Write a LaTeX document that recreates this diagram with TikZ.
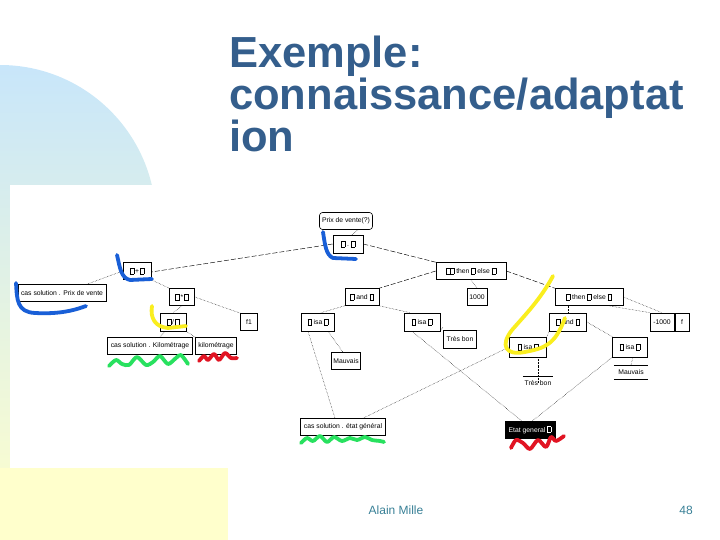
\documentclass[tikz,border=0pt]{standalone}
\usepackage{fontspec}
\setmainfont{Liberation Sans}
\usetikzlibrary{calc}
\definecolor{bgblue}{RGB}{200,230,250}
\definecolor{bgyellow}{RGB}{255,255,204}
\definecolor{titleblue}{RGB}{52,94,140}
\definecolor{foot}{RGB}{56,128,150}
\definecolor{hlblue}{RGB}{25,95,215}
\definecolor{hlyellow}{RGB}{250,238,30}
\definecolor{hlgreen}{RGB}{40,225,95}
\definecolor{hlred}{RGB}{225,20,35}
\newcommand\slt{\setlength\fboxsep{0pt}\setlength\fboxrule{0.3pt}\fbox{\rule{0pt}{5.5pt}\hspace{3.5pt}}}
\tikzset{
  tbox/.style={draw, line width=0.6pt, inner sep=1pt, font=\fontsize{6.8}{8}\selectfont, minimum height=17pt},
  conn/.style={line width=0.45pt, dash pattern=on 5pt off 2pt},
  dconn/.style={line width=0.45pt, densely dotted},
  hl/.style={line width=3.8pt, line cap=round, line join=round},
}
\begin{document}
\begin{tikzpicture}[x=1pt,y=-1pt]
\useasboundingbox (0,0) rectangle (720,540);
% background
\shade[top color=bgblue, bottom color=bgyellow]
  (0,65) arc[start angle=-90, end angle=0, radius=156] -- (156,221) -- (10,221) -- (10,468) -- (228,468) -- (228,540) -- (0,540) -- cycle;
\fill[white] (10,185) rectangle (720,468);
\fill[bgyellow] (0,468) rectangle (228,540);
% title
\node[anchor=base west, text=titleblue, font=\fontsize{43.5}{36}\selectfont\bfseries, inner sep=0pt, align=left, text width=480pt] (title) at (229,68)
  {Exemple:\\connaissance/adaptat\\ion};
% footer
\node[text=foot, font=\fontsize{12}{14}\selectfont] (auth) at (396,510) {Alain Mille};
\node[text=foot, font=\fontsize{12}{14}\selectfont] (pg) at (686,510) {48};

% nodes
\node[tbox, rounded corners=3pt, minimum width=53pt] (P) at (346,221) {Prix de vente(?)};
\node[tbox, minimum width=30pt, minimum height=18pt] (R) at (348,244) {\slt\ .\ \slt};
\node[tbox, minimum width=28pt] (A) at (137,271) {\slt\,+\,\slt};
\node[tbox, minimum width=88pt] (cs1) at (62,293) {cas solution . Prix de vente};
\node[tbox, minimum width=25pt] (B) at (182,297) {\slt\,*\,\slt};
\node[tbox, minimum width=26pt, minimum height=18pt] (C) at (173,322) {\slt\,/\,\slt};
\node[tbox, minimum width=17pt] (D) at (249,322) {f1};
\node[tbox, minimum width=85pt] (cs2) at (150,346) {cas solution . Kilométrage};
\node[tbox, minimum width=41pt] (km) at (216,346) {kilométrage};
\node[tbox, minimum width=70pt] (ite) at (471,271) {\slt\slt\ then \slt\ else \slt};
\node[tbox, minimum width=34pt] (and1) at (362,297) {\slt\ and \slt};
\node[tbox, minimum width=20pt] (k1000) at (477,297) {1000};
\node[tbox, minimum width=68pt] (ite2) at (589,297) {\slt\ then \slt\ else \slt};
\node[tbox, minimum width=33pt, minimum height=18pt] (isa1) at (318,322) {\slt\ isa \slt};
\node[tbox, minimum width=36pt, minimum height=18pt] (isa2) at (422,322) {\slt\ isa \slt};
\node[tbox, minimum width=33pt, minimum height=18pt] (tb1) at (460,339) {Très bon};
\node[tbox, minimum width=29pt] (mv1) at (346,361) {Mauvais};
\node[tbox, minimum width=37pt, minimum height=18pt] (and2) at (568,322) {\slt\ and \slt};
\node[tbox, minimum width=24pt, minimum height=18pt] (m1000) at (662,322) {-1000};
\node[tbox, minimum width=14pt, minimum height=18pt] (fb) at (682,322) {f};
\node[tbox, minimum width=37pt, minimum height=20pt] (isa3) at (528,347) {\slt\ isa \slt};
\node[tbox, minimum width=35pt, minimum height=20pt] (isa4) at (630,347) {\slt\ isa \slt};
\node[font=\fontsize{6.8}{8}\selectfont, inner sep=1pt, minimum width=30pt] (tb2) at (538,383) {Très bon};
\draw[line width=0.6pt] ($(tb2.north west)+(0,-3)$) -- ($(tb2.north east)+(0,-3)$);
\node[font=\fontsize{6.8}{8}\selectfont, inner sep=1pt, minimum width=34pt, minimum height=14pt] (mv2) at (631,372) {Mauvais};
\draw[line width=0.6pt] (mv2.north west) -- (mv2.north east);
\draw[line width=0.6pt] (mv2.south west) -- (mv2.south east);
\node[tbox, minimum width=85pt] (cs3) at (343,427) {cas solution . état général};
\node[tbox, fill=black, text=white, minimum width=50pt] (eg) at (530,430) {Etat general \slt};

% connectors
\draw[dconn] ([xshift=12pt]P.south) -- ([xshift=4pt]R.north);
\draw[conn] (R.west) -- ([yshift=-1pt]A.east);
\draw[conn] (R.east) -- (ite.north west);
\draw[dconn] (A.west) -- ([xshift=25pt]cs1.north);
\draw[dconn] (A.south east) -- (B.north west);
\draw[dconn] (B.south) -- (C.north);
\draw[dconn] (B.east) -- (D.north west);
\draw[dconn] ([xshift=-8pt]C.south) -- ([xshift=10pt]cs2.north);
\draw[dconn] (C.south east) -- (km.north west);
\draw[conn] (ite.west) -- (and1.north east);
\draw[dconn] (ite.south) -- (k1000.north);
\draw[conn] (ite.east) -- (ite2.north west);
\draw[dconn] (and1.south west) -- ([xshift=3pt]isa1.north);
\draw[dconn] (and1.south east) -- ([xshift=-12pt]isa2.north);
\draw[dconn] ([xshift=10pt]isa1.south) -- ([xshift=-3pt]mv1.north);
\draw[dconn] ([xshift=-10pt]isa1.south) -- ([xshift=-8pt]cs3.north);
\draw[dconn] (isa2.south east) -- ([yshift=3pt]tb1.north west);
\draw[dconn] ([xshift=-10pt]isa2.south) -- ([xshift=-8pt]eg.north);
\draw[dconn] ([xshift=-21pt]ite2.south) -- (and2.north);
\draw[dconn] (ite2.east) -- (m1000.north);
\draw[dconn] ([xshift=-14pt]ite2.south east) -- (m1000.north west);
\draw[dconn] (and2.south west) -- (isa3.north east);
\draw[dconn] (and2.east) -- (isa4.north west);
\draw[dconn] ([xshift=10pt]isa3.south) -- ([xshift=0pt,yshift=-3pt]tb2.north);
\draw[dconn] (isa3.west) -- ([xshift=20pt]cs3.north);
\draw[dconn] ([xshift=3pt]isa4.south) -- (mv2.north);
\draw[dconn] (isa4.south west) -- ([xshift=2pt]eg.north);

% hand-drawn highlights
\draw[hl, hlblue] (323,232) .. controls (325,245) and (326,255) .. (333,258) -- (356,259);
\draw[hl, hlblue] (117,255) .. controls (120,268) and (121,278) .. (130,280) -- (152,279);
\draw[hl, hlblue] (16,283) .. controls (17,300) and (17,312) .. (35,313) .. controls (55,314) and (70,312) .. (86,306);
\draw[hl, hlyellow] (152,306) .. controls (150,318) and (155,327) .. (168,328) -- (186,326);
\draw[hl, hlyellow] (553,276) .. controls (540,300) and (525,315) .. (512,330) .. controls (500,345) and (505,356) .. (525,352) .. controls (545,348) and (555,345) .. (565,318);
\draw[hl, hlgreen] plot[smooth] coordinates {(109,366) (116,360) (122,364) (129,365) (137,357) (146,365) (153,362) (160,356) (168,364) (176,358) (181,355) (188,364)};
\draw[hl, hlred] plot[smooth] coordinates {(199,361) (204,356) (208,360) (214,354) (219,360) (225,353) (231,358) (237,358)};
\draw[hl, hlgreen] plot[smooth] coordinates {(301,443) (307,438) (313,441) (320,436) (327,442) (334,437) (342,441) (350,438) (357,440) (365,437) (372,440) (380,441) (384,442)};
\draw[hl, hlred] plot[smooth] coordinates {(511,448) (516,440) (523,443) (530,449) (538,440) (546,447) (551,437) (556,441) (564,436)};
\end{tikzpicture}
\end{document}
